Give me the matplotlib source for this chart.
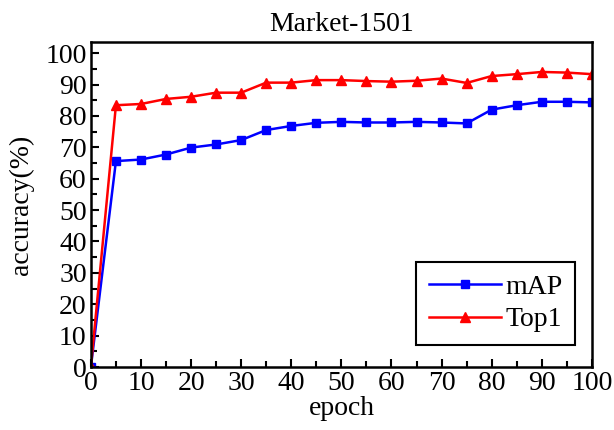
import numpy as np
from matplotlib import pyplot as plt
from matplotlib.ticker import MultipleLocator

epochs = [0, 5, 10, 15, 20, 25, 30, 35, 40, 45, 50,
          55, 60, 65, 70, 75, 80, 85, 90, 95, 100]
map_acc = [0, 65.6, 66.1, 67.7, 69.9, 70.9, 72.3, 75.5, 76.8, 77.8, 78.1,
           77.9, 77.9, 78.1, 77.9, 77.6, 82.0, 83.4, 84.5, 84.5, 84.3]
top1_acc = [0, 83.4, 83.8, 85.4, 86.1, 87.4, 87.4, 90.6, 90.6, 91.4, 91.4,
            91.1, 90.9, 91.2, 91.9, 90.5, 92.7, 93.3, 94.0, 93.8, 93.3]

plt.rcParams['font.family'] = ['Liberation Serif', 'DejaVu Serif']

fig = plt.figure(figsize=(6.14, 4.30), dpi=100)
ax = fig.add_axes([0.148, 0.1465, 0.816, 0.7555])

ax.plot(epochs, map_acc, '-s', color='blue', lw=1.8, ms=6, label='mAP')
ax.plot(epochs, top1_acc, '-^', color='red', lw=1.8, ms=7, label='Top1')

ax.set_xlim(0, 100)
ax.set_ylim(0, 103.5)
ax.xaxis.set_major_locator(MultipleLocator(10))
ax.xaxis.set_minor_locator(MultipleLocator(5))
ax.yaxis.set_major_locator(MultipleLocator(10))
ax.yaxis.set_minor_locator(MultipleLocator(5))
ax.tick_params(which='both', direction='in', top=False, right=False,
               labelsize=20, width=1.5, pad=3)
ax.tick_params(which='major', length=6)
ax.tick_params(which='minor', length=4)
for s in ax.spines.values():
    s.set_linewidth(1.8)

ax.set_xlabel('epoch', fontsize=20, labelpad=0)
ax.set_ylabel('accuracy(%)', fontsize=20, labelpad=8)
ax.set_title('Market-1501', fontsize=20, pad=8)

leg = ax.legend(loc='lower right', bbox_to_anchor=(0.966, 0.068), fontsize=20,
                borderaxespad=0, fancybox=False, edgecolor='black',
                framealpha=1, handlelength=2.6, handletextpad=0.15,
                borderpad=0.45, labelspacing=0.25)
leg.get_frame().set_linewidth(1.5)

fig.savefig('out.png', dpi=100)
